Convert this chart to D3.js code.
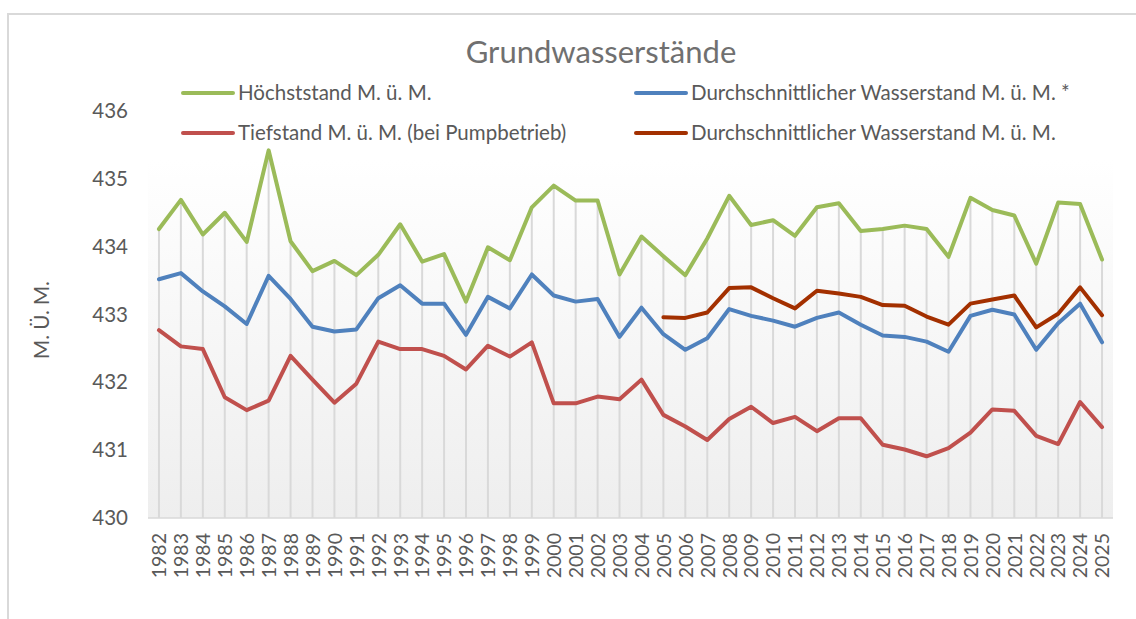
<!DOCTYPE html>
<html><head><meta charset="utf-8">
<script src="https://cdn.jsdelivr.net/npm/d3@7"></script>
<style>
html,body{margin:0;padding:0;background:#fff;}
svg{display:block;font-family:Lato,"Open Sans",sans-serif;}
</style></head>
<body>
<svg id="chart" width="1136" height="619"></svg>
<script>
const years = d3.range(1982, 2026).map(String);
const hoechst = [434.26,434.69,434.18,434.50,434.07,435.42,434.08,433.64,433.79,433.58,
  433.88,434.33,433.78,433.89,433.19,433.99,433.80,434.58,434.90,434.68,
  434.68,433.59,434.15,433.86,433.58,434.12,434.75,434.32,434.39,434.16,
  434.58,434.64,434.23,434.26,434.31,434.26,433.85,434.72,434.54,434.46,
  433.75,434.65,434.63,433.81];
const durchStern = [433.52,433.61,433.34,433.12,432.86,433.57,433.23,432.82,432.75,432.78,
  433.24,433.43,433.16,433.16,432.70,433.26,433.09,433.59,433.28,433.19,
  433.23,432.67,433.10,432.71,432.48,432.65,433.08,432.98,432.91,432.82,
  432.95,433.03,432.85,432.69,432.67,432.60,432.45,432.98,433.07,433.00,
  432.48,432.87,433.16,432.59];
const tief = [432.77,432.53,432.49,431.78,431.59,431.73,432.39,432.04,431.70,431.98,
  432.60,432.49,432.49,432.39,432.19,432.54,432.38,432.59,431.69,431.69,
  431.79,431.75,432.04,431.52,431.35,431.15,431.46,431.64,431.40,431.49,
  431.28,431.47,431.47,431.08,431.01,430.91,431.03,431.26,431.60,431.58,
  431.21,431.09,431.71,431.34];
const durch = [null,null,null,null,null,null,null,null,null,null,
  null,null,null,null,null,null,null,null,null,null,
  null,null,null,432.96,432.95,433.03,433.39,433.40,433.24,433.09,
  433.35,433.31,433.26,433.14,433.13,432.97,432.85,433.16,433.22,433.28,
  432.81,433.01,433.40,432.99];
const yTicks = [430,431,432,433,434,435,436];
const seriesNames = ["Höchststand M. ü. M.","Durchschnittlicher Wasserstand M. ü. M. *",
  "Tiefstand M. ü. M. (bei Pumpbetrieb)","Durchschnittlicher Wasserstand M. ü. M."];
const seriesColors = ["#9bbb59","#4f81bd","#c0504d","#a33000"];
const title = "Grundwasserstände";
const yTitle = "M. Ü. M.";

const svg = d3.select("#chart");
const L = 148, R = 1113, T = 111, B = 518;
const txt = "#595959";

// outer border
svg.append("path").attr("d","M8,619 V14 H1136").attr("fill","none")
  .attr("stroke","#d9d9d9").attr("stroke-width",2);

const defs = svg.append("defs");
const grad = defs.append("linearGradient").attr("id","pg").attr("x1",0).attr("y1",0).attr("x2",0).attr("y2",1);
grad.append("stop").attr("offset","0%").attr("stop-color","#ffffff");
grad.append("stop").attr("offset","12%").attr("stop-color","#ffffff");
grad.append("stop").attr("offset","100%").attr("stop-color","#eeeeee");

const x = d3.scalePoint().domain(years).range([L, R]).padding(0.5);
const y = d3.scaleLinear().domain([430,436]).range([B, T]);

svg.append("rect").attr("x",L).attr("y",T).attr("width",R-L).attr("height",B-T).attr("fill","url(#pg)");

// drop lines
const all = [hoechst, durchStern, tief, durch];
svg.append("g").selectAll("line").data(years).join("line")
  .attr("x1",d=>x(d)).attr("x2",d=>x(d))
  .attr("y1",(d,i)=>y(d3.max(all,s=>s[i])))
  .attr("y2",B)
  .attr("stroke","#d9d9d9").attr("stroke-width",2);

// x axis line
svg.append("line").attr("x1",L).attr("x2",R).attr("y1",B).attr("y2",B)
  .attr("stroke","#d9d9d9").attr("stroke-width",1.5);

// y axis
const yAxis = d3.axisLeft(y).tickValues(yTicks).tickFormat(d3.format("d")).tickSize(0).tickPadding(0);
const gy = svg.append("g").attr("transform","translate(128,0)").call(yAxis);
gy.select(".domain").remove();
gy.selectAll("text").attr("fill",txt).attr("font-size",20.5).attr("font-family","Lato,sans-serif");

// x axis labels
const xAxis = d3.axisBottom(x).tickSize(0).tickPadding(0);
const gx = svg.append("g").attr("transform",`translate(0,${B})`).call(xAxis);
gx.select(".domain").remove();
gx.selectAll("text").attr("fill",txt).attr("font-size",19.5).attr("font-family","Lato,sans-serif")
  .attr("text-anchor","end").attr("transform","rotate(-90)")
  .attr("x",-15).attr("y",0).attr("dy","0.35em");

// lines
const line = d3.line().defined(d=>d.v!=null).x(d=>x(d.k)).y(d=>y(d.v));
[0,1,2,3].forEach(si=>{
  const data = years.map((k,i)=>({k, v: all[si][i]}));
  svg.append("path").datum(data).attr("d",line).attr("fill","none")
    .attr("stroke",seriesColors[si]).attr("stroke-width",4)
    .attr("stroke-linejoin","round").attr("stroke-linecap","round");
});

// title
svg.append("text").attr("x",601).attr("y",63).attr("text-anchor","middle")
  .attr("font-size",31).attr("fill","#707070").text(title);

// y title
svg.append("text").attr("transform","translate(49,320) rotate(-90)").attr("text-anchor","middle")
  .attr("font-size",20.5).attr("fill",txt).text(yTitle);

// legend
const legPos = [[183,93],[636,93],[183,133],[636,133]];
seriesNames.forEach((n,i)=>{
  const [lx,ly] = legPos[i];
  svg.append("line").attr("x1",lx).attr("x2",lx+50).attr("y1",ly).attr("y2",ly)
    .attr("stroke",seriesColors[i]).attr("stroke-width",4).attr("stroke-linecap","round");
  svg.append("text").attr("x",lx+55).attr("y",ly).attr("dy","0.35em")
    .attr("font-size",20.5).attr("fill",txt).text(n);
});
</script>
</body></html>
